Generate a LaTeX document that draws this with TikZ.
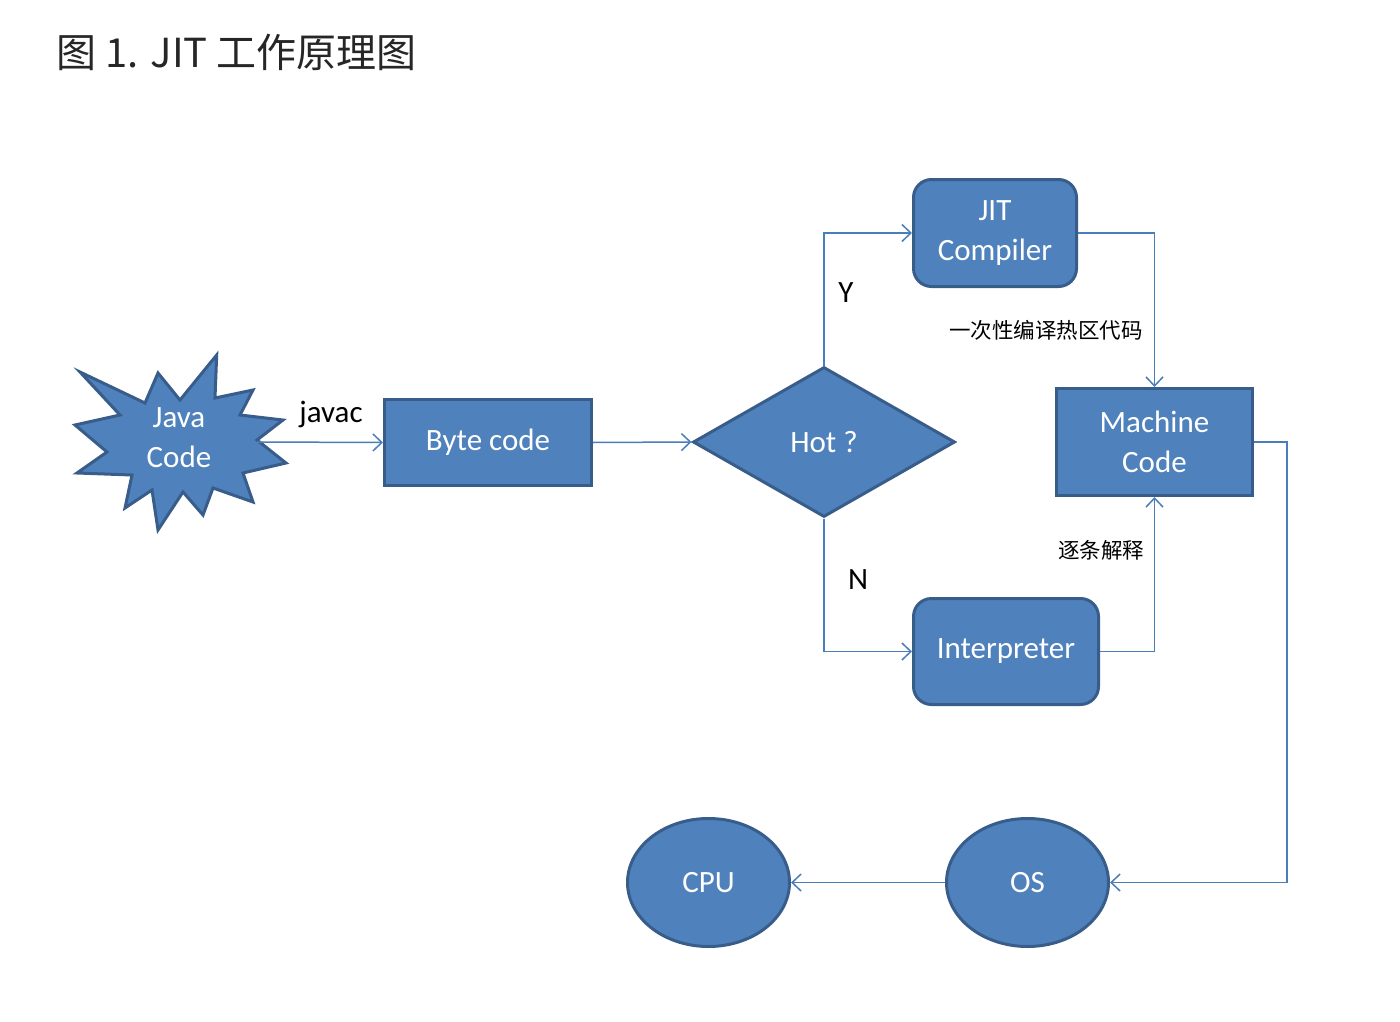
\documentclass[tikz,border=0pt]{standalone}
\usepackage{fontspec}
\setmainfont{Carlito}
\newfontfamily\cjk{Noto Sans CJK SC}
\usetikzlibrary{arrows.meta, shapes.geometric}

\definecolor{boxfill}{HTML}{4F81BD}
\definecolor{boxedge}{HTML}{385D8A}
\definecolor{linkblue}{HTML}{4A7EBB}

\begin{document}
\begin{tikzpicture}[
    x=1pt, y=-1pt,
    font=\fontsize{31}{40}\selectfont,
    block/.style={
        draw=boxedge, fill=boxfill, line width=3pt,
        text=white, align=center, inner sep=0pt
    },
    rblock/.style={
        block, rounded corners=18pt
    },
    decision/.style={
        block, diamond
    },
    oval/.style={
        block, ellipse
    },
    flow/.style={
        -{Straight Barb[length=9pt, width=17pt]}, draw=linkblue, line width=1.5pt
    },
    lbl/.style={
        text=black, inner sep=1pt
    },
    cnlbl/.style={
        lbl, font=\cjk\fontsize{21.5}{26}\selectfont
    }
]
\useasboundingbox (0,0) rectangle (1400,1022);

% --- title ---
\node[anchor=west, text=black!85, font=\cjk\fontsize{40}{48}\selectfont] (title) at (53,52) {图 1. JIT 工作原理图};

% --- java source: explosion shape ---
\draw[boxedge, fill=boxfill, line width=3pt, line join=miter]
  (216.7,355) -- (215,398) -- (253,390) -- (240,415) -- (283,420) -- (257,440)
  -- (286,463) -- (243,473) -- (253,502) -- (213,488) -- (203,515) -- (183,492)
  -- (158,530) -- (152,490) -- (125,508) -- (132,475) -- (77,473) -- (107,452)
  -- (75,425) -- (120,415) -- (80,372) -- (145,403) -- (158,373) -- (180,400)
  -- cycle;
\node[text=white, align=center, inner sep=0pt] (java) at (179,438) {Java\\Code};
\coordinate (javaE) at (257,442);

% --- main row ---
\node[block, minimum width=207pt, minimum height=86pt] (byte) at (488,442.5) {Byte code};
\node[decision, minimum width=262pt, minimum height=150pt] (hot) at (824,442) {Hot ?};
\node[block, minimum width=196pt, minimum height=107pt] (mc) at (1154.5,442) {Machine\\Code};

% --- the two branches ---
\node[rblock, minimum width=163pt, minimum height=107pt] (jit) at (995,233) {JIT\\Compiler};
\node[rblock, minimum width=185pt, minimum height=106pt] (interp) at (1006,651.5) {Interpreter};

% --- bottom row ---
\node[oval, minimum width=162pt, minimum height=128pt] (os) at (1027.5,882.5) {OS};
\node[oval, minimum width=162pt, minimum height=128pt] (cpu) at (708.5,882.5) {CPU};

% --- connectors ---
\draw[flow] (javaE) -- (byte.west);
\node[lbl] (javac) at (331,414) {javac};
\draw[flow] (byte.east) -- (hot.west);
\draw[flow] (hot.north) |- (jit.west);
\node[lbl] (yes) at (846,293) {Y};
\draw[flow] (hot.south) |- (interp.west);
\node[lbl] (no) at (858,580) {N};
\draw[flow] (jit.east) -| (mc.north);
\node[cnlbl] (once) at (1046,330) {一次性编译热区代码};
\draw[flow] (interp.east) -| (mc.south);
\node[cnlbl] (step) at (1101,550) {逐条解释};
\draw[flow] (mc.east) -- ++(33,0) |- (os.east);
\draw[flow] (os.west) -- (cpu.east);

\end{tikzpicture}
\end{document}
